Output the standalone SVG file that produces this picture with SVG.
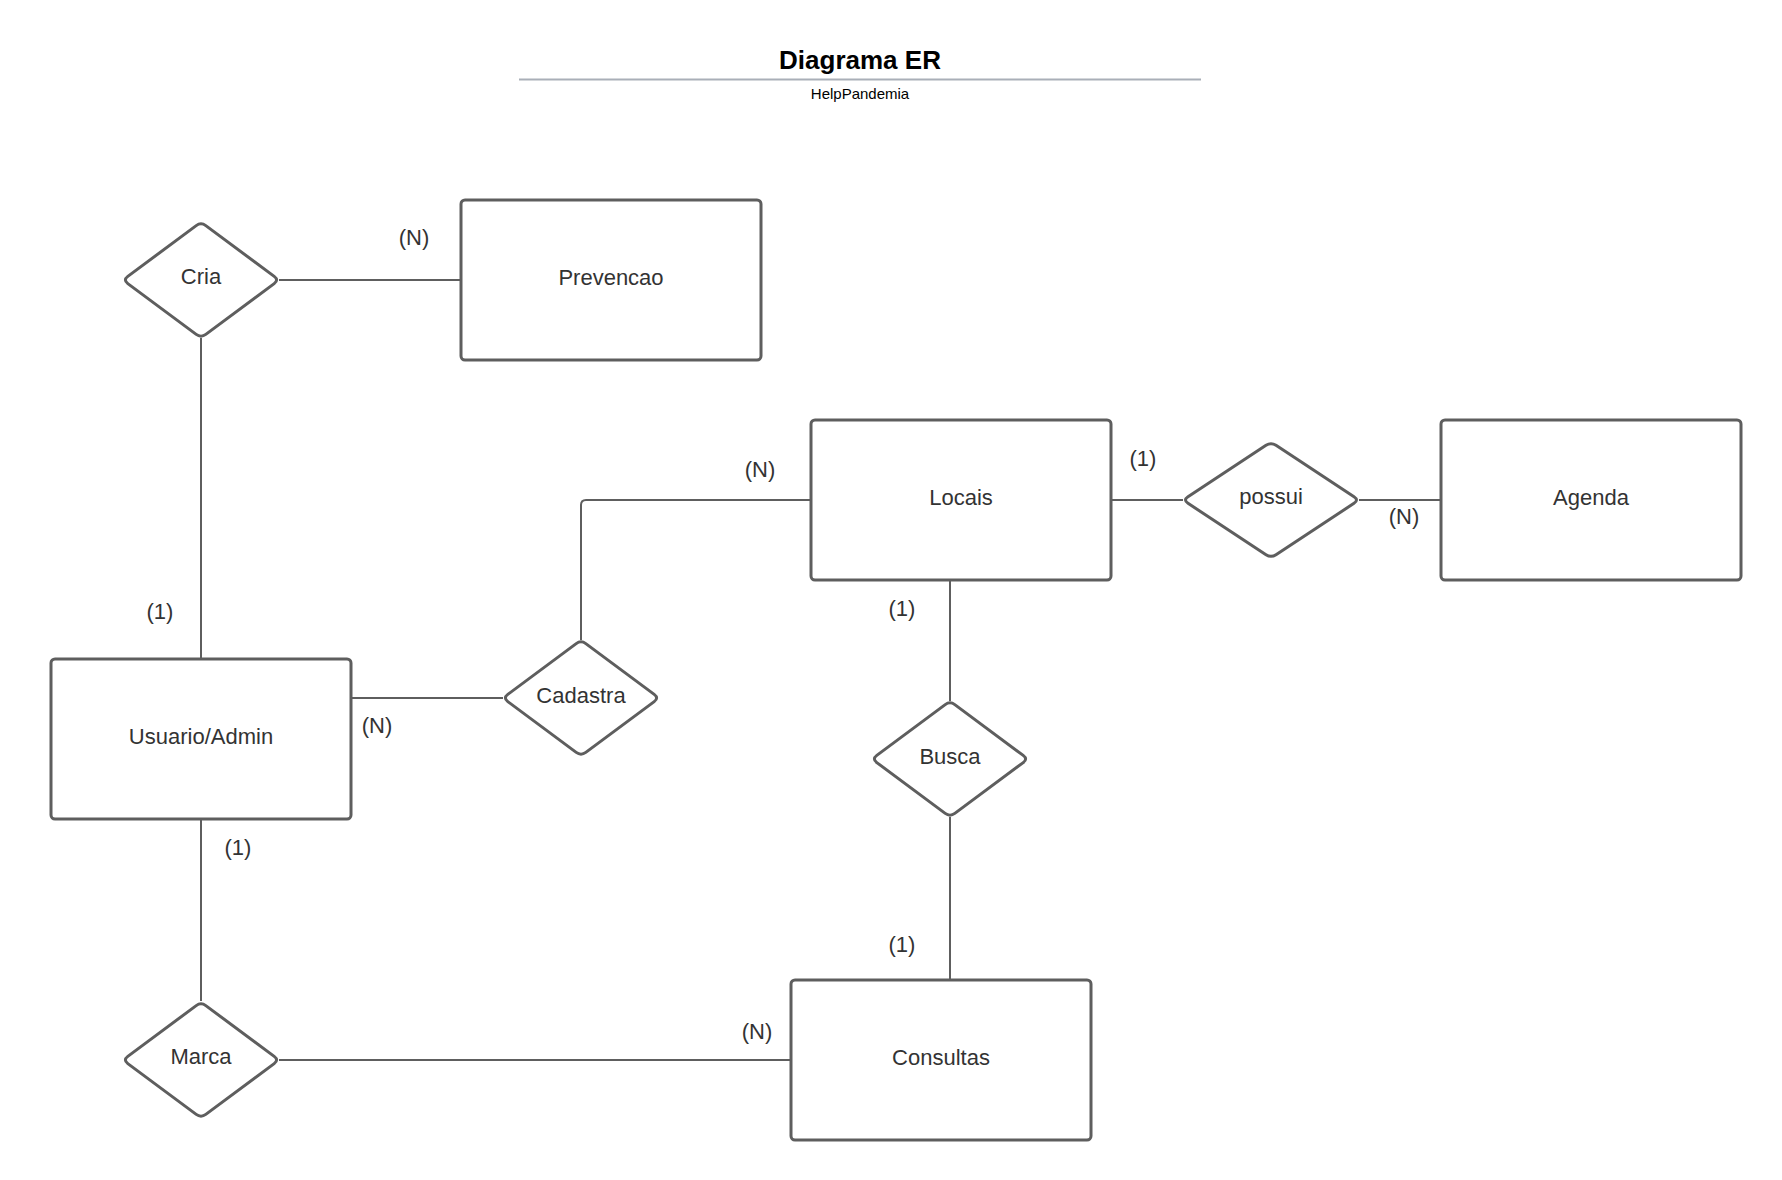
<svg xmlns="http://www.w3.org/2000/svg" width="1782" height="1180" viewBox="0 0 1782 1180">
<style>
  .ent { fill: #ffffff; stroke: #5e5e5e; stroke-width: 3; }
  .rel { fill: #ffffff; stroke: #5e5e5e; stroke-width: 3; stroke-linejoin: round; }
  .lbl { font-family: "Liberation Sans", Arial, sans-serif; font-size: 22px; fill: #333333; text-anchor: middle; }
  .card { font-family: "Liberation Sans", Arial, sans-serif; font-size: 22px; fill: #333333; text-anchor: middle; }
  .conn { fill: none; stroke: #5e5e5e; stroke-width: 2; }
</style>
<rect x="0" y="0" width="1782" height="1180" fill="#ffffff"/>

<g id="title">
  <text x="860" y="69" font-family="'Liberation Sans', Arial, sans-serif" font-size="26" font-weight="bold" text-anchor="middle" fill="#000000">Diagrama ER</text>
  <line x1="519" y1="79.5" x2="1201" y2="79.5" stroke="#a9afb8" stroke-width="2"/>
  <text x="860" y="99" font-family="'Liberation Sans', Arial, sans-serif" font-size="15" text-anchor="middle" fill="#000000">HelpPandemia</text>
</g>

<g id="connectors">
  <line class="conn" x1="279" y1="280" x2="461" y2="280"/>
  <line class="conn" x1="201" y1="338" x2="201" y2="659"/>
  <line class="conn" x1="351" y1="698" x2="503" y2="698"/>
  <path class="conn" d="M581,640 V505 Q581,500 586,500 H811"/>
  <line class="conn" x1="1111" y1="500" x2="1183" y2="500"/>
  <line class="conn" x1="1359" y1="500" x2="1441" y2="500"/>
  <line class="conn" x1="950" y1="580" x2="950" y2="701"/>
  <line class="conn" x1="950" y1="817" x2="950" y2="980"/>
  <line class="conn" x1="201" y1="819" x2="201" y2="1001"/>
  <line class="conn" x1="279" y1="1060" x2="791" y2="1060"/>
</g>

<g id="labels">
  <text class="card" x="414" y="245">(N)</text>
  <text class="card" x="160" y="619">(1)</text>
  <text class="card" x="760" y="477">(N)</text>
  <text class="card" x="1143" y="466">(1)</text>
  <text class="card" x="1404" y="524">(N)</text>
  <text class="card" x="902" y="616">(1)</text>
  <text class="card" x="377" y="733">(N)</text>
  <text class="card" x="238" y="855">(1)</text>
  <text class="card" x="902" y="952">(1)</text>
  <text class="card" x="757" y="1039">(N)</text>
</g>

<g id="prevencao">
  <rect class="ent" x="461" y="200" width="300" height="160" rx="4"/>
  <text class="lbl" x="611" y="285">Prevencao</text>
</g>
<g id="locais">
  <rect class="ent" x="811" y="420" width="300" height="160" rx="4"/>
  <text class="lbl" x="961" y="505">Locais</text>
</g>
<g id="agenda">
  <rect class="ent" x="1441" y="420" width="300" height="160" rx="4"/>
  <text class="lbl" x="1591" y="505">Agenda</text>
</g>
<g id="usuario">
  <rect class="ent" x="51" y="659" width="300" height="160" rx="4"/>
  <text class="lbl" x="201" y="744">Usuario/Admin</text>
</g>
<g id="consultas">
  <rect class="ent" x="791" y="980" width="300" height="160" rx="4"/>
  <text class="lbl" x="941" y="1065">Consultas</text>
</g>

<g id="cria">
  <path class="rel" d="M205.8,225.6 l68.4,50.8 q4.8,3.6 0,7.2 l-68.4,50.8 q-4.8,3.6 -9.6,0 l-68.4,-50.8 q-4.8,-3.6 0,-7.2 l68.4,-50.8 q4.8,-3.6 9.6,0 z"/>
  <text class="lbl" x="201" y="284">Cria</text>
</g>
<g id="cadastra">
  <path class="rel" d="M585.8,643.6 l68.4,50.8 q4.8,3.6 0,7.2 l-68.4,50.8 q-4.8,3.6 -9.6,0 l-68.4,-50.8 q-4.8,-3.6 0,-7.2 l68.4,-50.8 q4.8,-3.6 9.6,0 z"/>
  <text class="lbl" x="581" y="703">Cadastra</text>
</g>
<g id="possui">
  <path class="rel" d="M1276,445.3 l78,51.4 q5,3.3 0,6.6 l-78,51.4 q-5,3.3 -10,0 l-78,-51.4 q-5,-3.3 0,-6.6 l78,-51.4 q5,-3.3 10,0 z"/>
  <text class="lbl" x="1271" y="504">possui</text>
</g>
<g id="busca">
  <path class="rel" d="M954.8,704.6 l68.4,50.8 q4.8,3.6 0,7.2 l-68.4,50.8 q-4.8,3.6 -9.6,0 l-68.4,-50.8 q-4.8,-3.6 0,-7.2 l68.4,-50.8 q4.8,-3.6 9.6,0 z"/>
  <text class="lbl" x="950" y="764">Busca</text>
</g>
<g id="marca">
  <path class="rel" d="M205.8,1005.6 l68.4,50.8 q4.8,3.6 0,7.2 l-68.4,50.8 q-4.8,3.6 -9.6,0 l-68.4,-50.8 q-4.8,-3.6 0,-7.2 l68.4,-50.8 q4.8,-3.6 9.6,0 z"/>
  <text class="lbl" x="201" y="1064">Marca</text>
</g>
</svg>
